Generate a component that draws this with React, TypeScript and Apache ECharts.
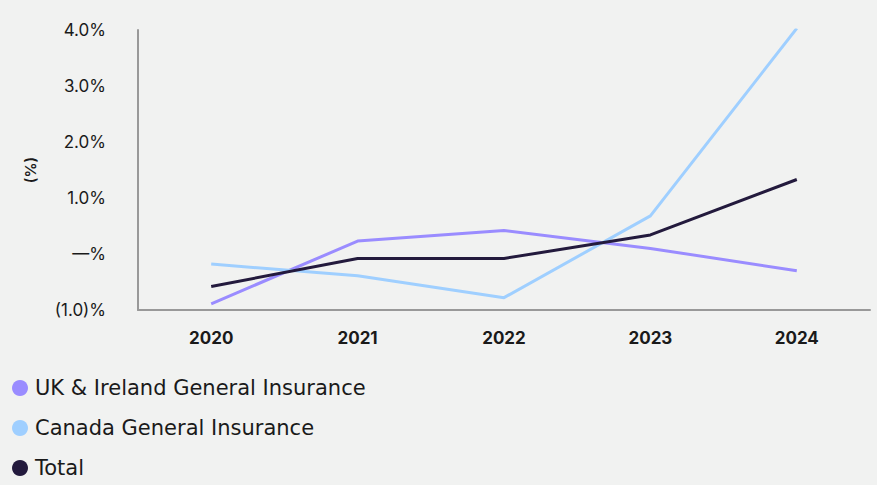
import React, { useEffect, useRef } from "react";
import * as echarts from "echarts";

const years = ["2020", "2021", "2022", "2023", "2024"];
const ukIreland = [-0.89, 0.23, 0.42, 0.1, -0.3];
const canada = [-0.18, -0.39, -0.78, 0.68, 4.03];
const total = [-0.58, -0.08, -0.08, 0.34, 1.33];
const seriesNames = ["UK & Ireland General Insurance", "Canada General Insurance", "Total"];
const colors = ["#9a8cff", "#9fcfff", "#231a3d"];

function fmt(v: number): string {
  if (Math.abs(v) < 1e-9) return "—%";
  if (v < 0) return "(" + Math.abs(v).toFixed(1) + ")%";
  return v.toFixed(1) + "%";
}

export default function App() {
  const ref = useRef<HTMLDivElement>(null);
  useEffect(() => {
    if (!ref.current) return;
    const chart = echarts.init(ref.current, undefined, { renderer: "svg" });
    const font = "Inter, 'Noto Sans', sans-serif";
    const data = [ukIreland, canada, total];
    chart.setOption({
      animation: false,
      backgroundColor: "#f1f2f1",
      textStyle: { fontFamily: font },
      grid: { left: 138, right: 7, top: 30, bottom: 175 },
      legend: {
        orient: "vertical",
        left: 7,
        top: 372,
        height: 200,
        icon: "circle",
        itemWidth: 16,
        itemHeight: 16,
        itemGap: 18,
        data: seriesNames,
        textStyle: {
          fontSize: 21,
          color: "#1a1a1a",
          fontFamily: "'DejaVu Sans', sans-serif",
          lineHeight: 22,
          padding: [0, 0, 0, 2],
        },
      },
      xAxis: {
        type: "category",
        data: years,
        boundaryGap: true,
        axisLine: { onZero: false, lineStyle: { color: "#999", width: 2 } },
        axisTick: { show: false },
        axisLabel: { fontSize: 17, fontWeight: "bold", color: "#1a1a1a", margin: 19 },
      },
      yAxis: {
        type: "value",
        min: -1,
        max: 4,
        interval: 1,
        name: "(%)",
        nameLocation: "middle",
        nameGap: 100,
        nameTextStyle: { fontSize: 15, color: "#1a1a1a", fontWeight: 600 },
        axisLine: { show: true, lineStyle: { color: "#999", width: 2 } },
        axisTick: { show: false },
        splitLine: { show: false },
        axisLabel: { fontSize: 17, color: "#1a1a1a", margin: 32, formatter: (v: number) => fmt(v) },
      },
      series: seriesNames.map((n, i) => ({
        name: n,
        type: "line",
        data: data[i],
        symbol: "none",
        color: colors[i],
        lineStyle: { width: 3, color: colors[i] },
      })),
    });
    return () => chart.dispose();
  }, []);
  return <div ref={ref} style={{ position: "absolute", left: 0, top: 0, width: 877, height: 485 }} />;
}
